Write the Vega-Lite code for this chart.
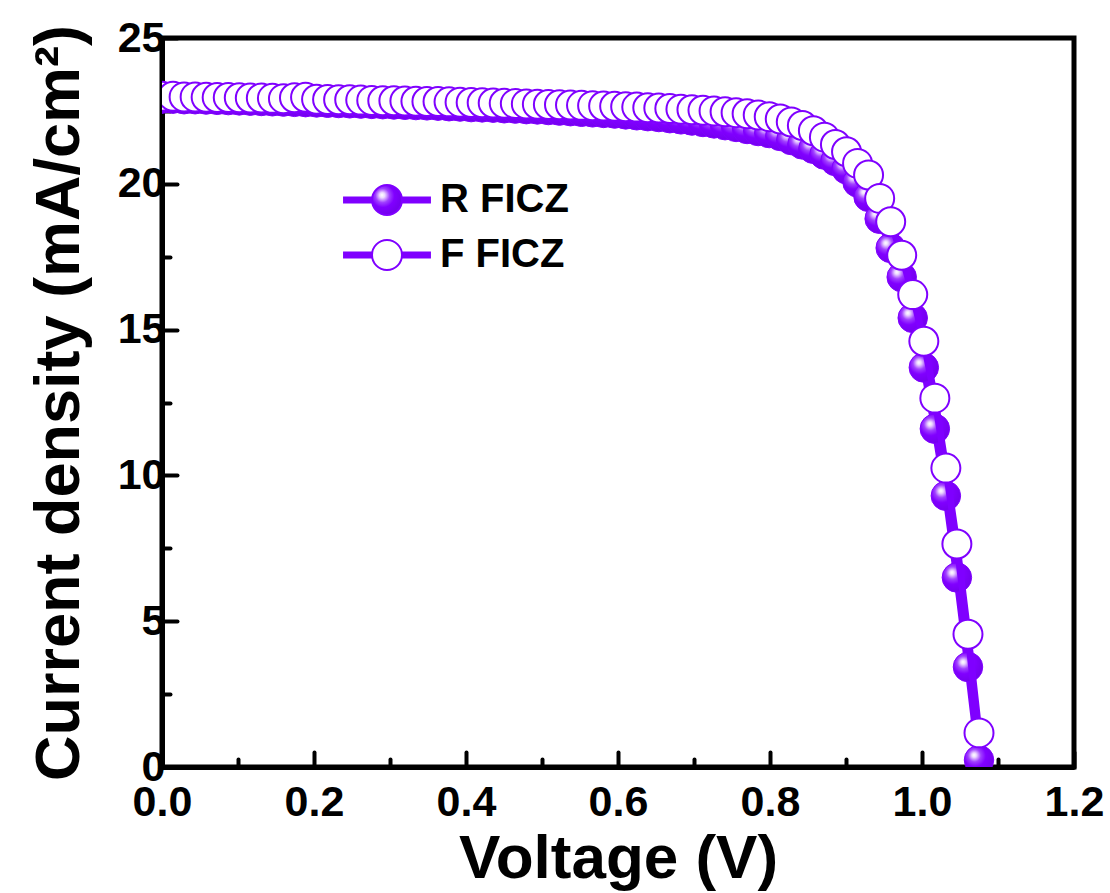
{
  "$schema": "https://vega.github.io/schema/vega-lite/v6.json",
  "autosize": {"type": "none"},
  "padding": {"left": 162, "top": 38, "right": 36, "bottom": 126},
  "width": 912,
  "height": 729,
  "background": "white",
  "config": {
    "view": {"stroke": "black", "strokeWidth": 5},
    "font": "Liberation Sans",
    "axis": {
      "grid": false,
      "domainColor": "black",
      "domainWidth": 5,
      "tickColor": "black",
      "tickWidth": 4,
      "tickCap": "round",
      "labelFont": "Liberation Sans",
      "labelFontWeight": "bold",
      "labelFontSize": 43,
      "labelColor": "black",
      "titleFont": "Liberation Sans",
      "titleFontWeight": "bold",
      "titleColor": "black"
    }
  },
  "data": {
    "values": [
      {"series": "R FICZ", "V": 0.0, "J": 22.92},
      {"series": "R FICZ", "V": 0.0145, "J": 22.92},
      {"series": "R FICZ", "V": 0.0291, "J": 22.9},
      {"series": "R FICZ", "V": 0.0436, "J": 22.9},
      {"series": "R FICZ", "V": 0.0581, "J": 22.89},
      {"series": "R FICZ", "V": 0.0726, "J": 22.88},
      {"series": "R FICZ", "V": 0.0872, "J": 22.87},
      {"series": "R FICZ", "V": 0.1017, "J": 22.86},
      {"series": "R FICZ", "V": 0.1162, "J": 22.85},
      {"series": "R FICZ", "V": 0.1307, "J": 22.84},
      {"series": "R FICZ", "V": 0.1453, "J": 22.83},
      {"series": "R FICZ", "V": 0.1598, "J": 22.82},
      {"series": "R FICZ", "V": 0.1743, "J": 22.81},
      {"series": "R FICZ", "V": 0.1889, "J": 22.8},
      {"series": "R FICZ", "V": 0.2034, "J": 22.79},
      {"series": "R FICZ", "V": 0.2179, "J": 22.78},
      {"series": "R FICZ", "V": 0.2324, "J": 22.77},
      {"series": "R FICZ", "V": 0.247, "J": 22.76},
      {"series": "R FICZ", "V": 0.2615, "J": 22.75},
      {"series": "R FICZ", "V": 0.276, "J": 22.74},
      {"series": "R FICZ", "V": 0.2905, "J": 22.73},
      {"series": "R FICZ", "V": 0.3051, "J": 22.72},
      {"series": "R FICZ", "V": 0.3196, "J": 22.71},
      {"series": "R FICZ", "V": 0.3341, "J": 22.7},
      {"series": "R FICZ", "V": 0.3486, "J": 22.69},
      {"series": "R FICZ", "V": 0.3632, "J": 22.68},
      {"series": "R FICZ", "V": 0.3777, "J": 22.66},
      {"series": "R FICZ", "V": 0.3922, "J": 22.65},
      {"series": "R FICZ", "V": 0.4068, "J": 22.63},
      {"series": "R FICZ", "V": 0.4213, "J": 22.62},
      {"series": "R FICZ", "V": 0.4358, "J": 22.61},
      {"series": "R FICZ", "V": 0.4503, "J": 22.59},
      {"series": "R FICZ", "V": 0.4649, "J": 22.58},
      {"series": "R FICZ", "V": 0.4794, "J": 22.56},
      {"series": "R FICZ", "V": 0.4939, "J": 22.55},
      {"series": "R FICZ", "V": 0.5084, "J": 22.53},
      {"series": "R FICZ", "V": 0.523, "J": 22.51},
      {"series": "R FICZ", "V": 0.5375, "J": 22.49},
      {"series": "R FICZ", "V": 0.552, "J": 22.47},
      {"series": "R FICZ", "V": 0.5666, "J": 22.45},
      {"series": "R FICZ", "V": 0.5811, "J": 22.43},
      {"series": "R FICZ", "V": 0.5956, "J": 22.41},
      {"series": "R FICZ", "V": 0.6101, "J": 22.38},
      {"series": "R FICZ", "V": 0.6247, "J": 22.35},
      {"series": "R FICZ", "V": 0.6392, "J": 22.32},
      {"series": "R FICZ", "V": 0.6537, "J": 22.29},
      {"series": "R FICZ", "V": 0.6682, "J": 22.25},
      {"series": "R FICZ", "V": 0.6828, "J": 22.21},
      {"series": "R FICZ", "V": 0.6973, "J": 22.17},
      {"series": "R FICZ", "V": 0.7118, "J": 22.12},
      {"series": "R FICZ", "V": 0.7264, "J": 22.07},
      {"series": "R FICZ", "V": 0.7409, "J": 22.01},
      {"series": "R FICZ", "V": 0.7554, "J": 21.95},
      {"series": "R FICZ", "V": 0.7699, "J": 21.88},
      {"series": "R FICZ", "V": 0.7845, "J": 21.81},
      {"series": "R FICZ", "V": 0.799, "J": 21.74},
      {"series": "R FICZ", "V": 0.8135, "J": 21.64},
      {"series": "R FICZ", "V": 0.828, "J": 21.5},
      {"series": "R FICZ", "V": 0.8426, "J": 21.35},
      {"series": "R FICZ", "V": 0.8571, "J": 21.2},
      {"series": "R FICZ", "V": 0.8716, "J": 21.0},
      {"series": "R FICZ", "V": 0.8861, "J": 20.78},
      {"series": "R FICZ", "V": 0.9007, "J": 20.5},
      {"series": "R FICZ", "V": 0.9152, "J": 20.05},
      {"series": "R FICZ", "V": 0.9297, "J": 19.55},
      {"series": "R FICZ", "V": 0.9443, "J": 18.8},
      {"series": "R FICZ", "V": 0.9588, "J": 17.8},
      {"series": "R FICZ", "V": 0.9733, "J": 16.8},
      {"series": "R FICZ", "V": 0.9878, "J": 15.4},
      {"series": "R FICZ", "V": 1.0024, "J": 13.7},
      {"series": "R FICZ", "V": 1.0169, "J": 11.6},
      {"series": "R FICZ", "V": 1.0314, "J": 9.3},
      {"series": "R FICZ", "V": 1.0459, "J": 6.5},
      {"series": "R FICZ", "V": 1.0605, "J": 3.43},
      {"series": "R FICZ", "V": 1.075, "J": 0.24},
      {"series": "F FICZ", "V": 0.0, "J": 23.0},
      {"series": "F FICZ", "V": 0.0145, "J": 23.0},
      {"series": "F FICZ", "V": 0.0291, "J": 22.98},
      {"series": "F FICZ", "V": 0.0436, "J": 22.98},
      {"series": "F FICZ", "V": 0.0581, "J": 22.97},
      {"series": "F FICZ", "V": 0.0726, "J": 22.96},
      {"series": "F FICZ", "V": 0.0872, "J": 22.96},
      {"series": "F FICZ", "V": 0.1017, "J": 22.95},
      {"series": "F FICZ", "V": 0.1162, "J": 22.94},
      {"series": "F FICZ", "V": 0.1307, "J": 22.94},
      {"series": "F FICZ", "V": 0.1453, "J": 22.93},
      {"series": "F FICZ", "V": 0.1598, "J": 22.92},
      {"series": "F FICZ", "V": 0.1743, "J": 22.95},
      {"series": "F FICZ", "V": 0.1889, "J": 22.97},
      {"series": "F FICZ", "V": 0.2034, "J": 22.9},
      {"series": "F FICZ", "V": 0.2179, "J": 22.89},
      {"series": "F FICZ", "V": 0.2324, "J": 22.88},
      {"series": "F FICZ", "V": 0.247, "J": 22.88},
      {"series": "F FICZ", "V": 0.2615, "J": 22.87},
      {"series": "F FICZ", "V": 0.276, "J": 22.86},
      {"series": "F FICZ", "V": 0.2905, "J": 22.85},
      {"series": "F FICZ", "V": 0.3051, "J": 22.85},
      {"series": "F FICZ", "V": 0.3196, "J": 22.84},
      {"series": "F FICZ", "V": 0.3341, "J": 22.83},
      {"series": "F FICZ", "V": 0.3486, "J": 22.82},
      {"series": "F FICZ", "V": 0.3632, "J": 22.82},
      {"series": "F FICZ", "V": 0.3777, "J": 22.81},
      {"series": "F FICZ", "V": 0.3922, "J": 22.8},
      {"series": "F FICZ", "V": 0.4068, "J": 22.79},
      {"series": "F FICZ", "V": 0.4213, "J": 22.78},
      {"series": "F FICZ", "V": 0.4358, "J": 22.77},
      {"series": "F FICZ", "V": 0.4503, "J": 22.76},
      {"series": "F FICZ", "V": 0.4649, "J": 22.75},
      {"series": "F FICZ", "V": 0.4794, "J": 22.74},
      {"series": "F FICZ", "V": 0.4939, "J": 22.73},
      {"series": "F FICZ", "V": 0.5084, "J": 22.72},
      {"series": "F FICZ", "V": 0.523, "J": 22.71},
      {"series": "F FICZ", "V": 0.5375, "J": 22.7},
      {"series": "F FICZ", "V": 0.552, "J": 22.69},
      {"series": "F FICZ", "V": 0.5666, "J": 22.68},
      {"series": "F FICZ", "V": 0.5811, "J": 22.67},
      {"series": "F FICZ", "V": 0.5956, "J": 22.66},
      {"series": "F FICZ", "V": 0.6101, "J": 22.64},
      {"series": "F FICZ", "V": 0.6247, "J": 22.63},
      {"series": "F FICZ", "V": 0.6392, "J": 22.61},
      {"series": "F FICZ", "V": 0.6537, "J": 22.6},
      {"series": "F FICZ", "V": 0.6682, "J": 22.58},
      {"series": "F FICZ", "V": 0.6828, "J": 22.56},
      {"series": "F FICZ", "V": 0.6973, "J": 22.54},
      {"series": "F FICZ", "V": 0.7118, "J": 22.52},
      {"series": "F FICZ", "V": 0.7264, "J": 22.5},
      {"series": "F FICZ", "V": 0.7409, "J": 22.47},
      {"series": "F FICZ", "V": 0.7554, "J": 22.44},
      {"series": "F FICZ", "V": 0.7699, "J": 22.4},
      {"series": "F FICZ", "V": 0.7845, "J": 22.36},
      {"series": "F FICZ", "V": 0.799, "J": 22.3},
      {"series": "F FICZ", "V": 0.8135, "J": 22.22},
      {"series": "F FICZ", "V": 0.828, "J": 22.12},
      {"series": "F FICZ", "V": 0.8426, "J": 22.0},
      {"series": "F FICZ", "V": 0.8571, "J": 21.82},
      {"series": "F FICZ", "V": 0.8716, "J": 21.6},
      {"series": "F FICZ", "V": 0.8861, "J": 21.35},
      {"series": "F FICZ", "V": 0.9007, "J": 21.1},
      {"series": "F FICZ", "V": 0.9152, "J": 20.7},
      {"series": "F FICZ", "V": 0.9297, "J": 20.3},
      {"series": "F FICZ", "V": 0.9443, "J": 19.5},
      {"series": "F FICZ", "V": 0.9588, "J": 18.7},
      {"series": "F FICZ", "V": 0.9733, "J": 17.55},
      {"series": "F FICZ", "V": 0.9878, "J": 16.2},
      {"series": "F FICZ", "V": 1.0024, "J": 14.6},
      {"series": "F FICZ", "V": 1.0169, "J": 12.65},
      {"series": "F FICZ", "V": 1.0314, "J": 10.25},
      {"series": "F FICZ", "V": 1.0459, "J": 7.65},
      {"series": "F FICZ", "V": 1.0605, "J": 4.55},
      {"series": "F FICZ", "V": 1.075, "J": 1.17}
    ]
  },
  "encoding": {
    "x": {
      "field": "V",
      "type": "quantitative",
      "title": "Voltage (V)",
      "scale": {"domain": [0, 1.2], "nice": false, "zero": false},
      "axis": {
        "values": [0, 0.1, 0.2, 0.3, 0.4, 0.5, 0.6, 0.7, 0.8, 0.9, 1.0, 1.1, 1.2],
        "labelExpr": "round(datum.value * 10) % 2 === 0 ? format(datum.value, '.1f') : ''",
        "tickSize": {"condition": {"test": "round(datum.value * 10) % 2 === 0", "value": -15}, "value": -8},
        "labelPadding": 29,
        "labelFlush": false,
        "labelOverlap": false,
        "titleFontSize": 62,
        "titlePadding": -3
      }
    },
    "y": {
      "field": "J",
      "type": "quantitative",
      "title": "Current density (mA/cm²)",
      "scale": {"domain": [0, 25], "nice": false},
      "axis": {
        "values": [0, 2.5, 5, 7.5, 10, 12.5, 15, 17.5, 20, 22.5, 25],
        "labelExpr": "datum.value % 5 === 0 ? format(datum.value, 'd') : ''",
        "tickSize": {"condition": {"test": "datum.value % 5 === 0", "value": -15}, "value": -8},
        "labelPadding": 12,
        "labelFlush": false,
        "labelOverlap": false,
        "titleFontSize": 63,
        "titlePadding": 26
      }
    }
  },
  "layer": [
    {
      "transform": [{"filter": "datum.series === 'R FICZ'"}],
      "mark": {"type": "line", "strokeWidth": 7, "clip": true},
      "encoding": {
        "stroke": {
          "field": "series",
          "type": "nominal",
          "scale": {"domain": ["R FICZ", "F FICZ"], "range": ["#7f00ff", "#7f00ff"]},
          "legend": {
            "title": null,
            "orient": "none",
            "legendX": 205,
            "legendY": 142,
            "direction": "vertical",
            "padding": 0,
            "rowPadding": 15,
            "labelFont": "Liberation Sans",
            "labelFontWeight": "bold",
            "labelFontSize": 40,
            "labelColor": "black",
            "labelOffset": 33,
            "symbolSize": 900,
            "symbolStrokeWidth": 2,
            "symbolType": "M-2.93,-0.17L-1,-0.17M-2.93,-0.06L-1,-0.06M-2.93,0.06L-1,0.06M-2.93,0.17L-1,0.17M1,-0.17L2.93,-0.17M1,-0.06L2.93,-0.06M1,0.06L2.93,0.06M1,0.17L2.93,0.17M1,0A1,1 0 1,1 -1,0A1,1 0 1,1 1,0Z",
            "encode": {
              "symbols": {
                "update": {
                  "fill": [
                    {
                      "test": "datum.value === 'R FICZ'",
                      "value": {
                        "gradient": "radial",
                        "x1": 0.443, "y1": 0.443, "r1": 0,
                        "x2": 0.46, "y2": 0.46, "r2": 0.2,
                        "stops": [
                          {"offset": 0, "color": "#ffffff"},
                          {"offset": 0.15, "color": "#ecd8ff"},
                          {"offset": 0.4, "color": "#a040ff"},
                          {"offset": 0.65, "color": "#8000ff"},
                          {"offset": 1, "color": "#7400ee"}
                        ]
                      }
                    },
                    {"value": "white"}
                  ],
                  "fillOpacity": {"value": 1},
                  "stroke": {"value": "#7f00ff"},
                  "strokeWidth": {"value": 2},
                  "opacity": {"value": 1}
                }
              }
            }
          }
        }
      }
    },
    {
      "transform": [{"filter": "datum.series === 'R FICZ'"}],
      "mark": {
        "type": "point",
        "shape": "circle",
        "size": 870,
        "filled": true,
        "opacity": 1,
        "clip": true,
        "stroke": "#7f00ff",
        "strokeWidth": 1,
        "fill": {
          "gradient": "radial",
          "x1": 0.33, "y1": 0.33, "r1": 0,
          "x2": 0.38, "y2": 0.38, "r2": 0.62,
          "stops": [
            {"offset": 0, "color": "#ffffff"},
            {"offset": 0.12, "color": "#ecd8ff"},
            {"offset": 0.35, "color": "#a040ff"},
            {"offset": 0.6, "color": "#8000ff"},
            {"offset": 1, "color": "#7400ee"}
          ]
        }
      }
    },
    {
      "transform": [{"filter": "datum.series === 'F FICZ'"}],
      "mark": {"type": "line", "strokeWidth": 7, "clip": true},
      "encoding": {
        "stroke": {"field": "series", "type": "nominal"}
      }
    },
    {
      "transform": [{"filter": "datum.series === 'F FICZ'"}],
      "mark": {
        "type": "point",
        "shape": "circle",
        "size": 840,
        "filled": true,
        "opacity": 1,
        "clip": true,
        "fill": "white",
        "stroke": "#7f00ff",
        "strokeWidth": 2
      }
    }
  ]
}
